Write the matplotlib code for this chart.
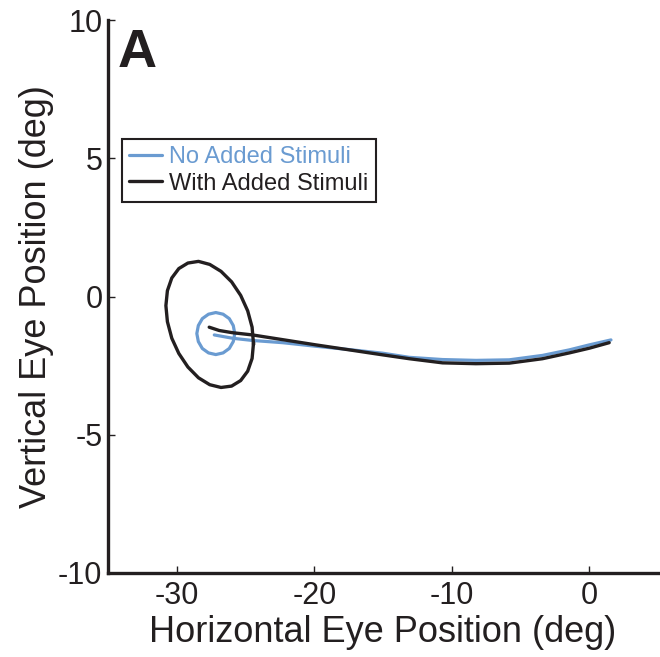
import matplotlib
matplotlib.use("Agg")
import matplotlib.pyplot as plt

plt.rcParams['font.family'] = ['Liberation Sans', 'DejaVu Sans']
plt.rcParams['axes.unicode_minus'] = False

# ---- data ----
xticks = [-30, -20, -10, 0]
yticks = [-10, -5, 0, 5, 10]
labels = ["No Added Stimuli", "With Added Stimuli"]

# No Added Stimuli: small loop + tail
blue_loop_x = [-25.78, -25.89, -26.18, -26.63, -27.16, -27.69, -28.14, -28.43,
               -28.54, -28.43, -28.14, -27.69, -27.16, -26.63, -26.18, -25.89,
               -25.78]
blue_loop_y = [-1.34, -1.05, -0.80, -0.64, -0.58, -0.64, -0.80, -1.05,
               -1.34, -1.63, -1.88, -2.04, -2.10, -2.04, -1.88, -1.63,
               -1.34]
blue_x = [-27.27, -25.94, -24.49, -22.31, -19.88, -17.45, -15.03, -13.09,
          -10.67, -8.24, -5.82, -3.40, -1.45, 0.00, 1.58]
blue_y = [-1.39, -1.51, -1.59, -1.67, -1.80, -1.92, -2.05, -2.20,
          -2.28, -2.31, -2.29, -2.13, -1.93, -1.75, -1.57]

# With Added Stimuli: large tilted loop + tail
black_loop_x = [-24.42, -24.52, -24.84, -25.35, -26.01, -26.78, -27.60, -28.42,
                -29.19, -29.85, -30.36, -30.68, -30.79, -30.68, -30.36, -29.85,
                -29.19, -28.42, -27.60, -26.78, -26.01, -25.35, -24.84, -24.52,
                -24.42]
black_loop_y = [-1.70, -2.24, -2.70, -3.04, -3.24, -3.29, -3.19, -2.94,
                -2.55, -2.06, -1.51, -0.91, -0.33, 0.21, 0.67, 1.01,
                1.21, 1.27, 1.16, 0.91, 0.53, 0.04, -0.52, -1.11,
                -1.70]
black_x = [-27.64, -26.91, -25.94, -24.49, -22.31, -19.88, -17.45, -15.03,
           -13.09, -10.67, -8.24, -5.82, -3.40, -1.45, 0.00, 1.45]
black_y = [-1.11, -1.23, -1.31, -1.39, -1.56, -1.75, -1.93, -2.11,
           -2.25, -2.40, -2.43, -2.41, -2.25, -2.04, -1.87, -1.67]

blue = '#6A9BD1'
dark = '#231F20'

fig = plt.figure(figsize=(6.6, 6.57), dpi=100)
ax = fig.add_axes([108/660, 1 - 573/657, 550/660, 553/657])

ax.plot(blue_loop_x, blue_loop_y, color=blue, lw=2.3, solid_joinstyle='round')
ax.plot(blue_x, blue_y, color=blue, lw=2.3, label=labels[0],
        solid_joinstyle='round', solid_capstyle='round')
ax.plot(black_loop_x, black_loop_y, color=dark, lw=2.4, solid_joinstyle='round')
ax.plot(black_x, black_y, color=dark, lw=2.4, label=labels[1],
        solid_joinstyle='round', solid_capstyle='round')

ax.set_xlim(-35, 5)
ax.set_ylim(-10, 10)
ax.set_xticks(xticks)
ax.set_yticks(yticks)
ax.spines['top'].set_visible(False)
ax.spines['right'].set_visible(False)
for s in ('left', 'bottom'):
    ax.spines[s].set_linewidth(2.4)
    ax.spines[s].set_color(dark)
ax.tick_params(direction='in', length=5, width=1.0, labelsize=22,
               colors=dark)
ax.tick_params(axis='y', pad=4)
ax.tick_params(axis='x', pad=6)

ax.set_xlabel("Horizontal Eye Position (deg)", fontsize=26, color=dark, labelpad=3)
ax.set_ylabel("Vertical Eye Position (deg)", fontsize=26, color=dark, labelpad=3)

ax.text(0.018, 0.986, "A", transform=ax.transAxes, fontsize=39,
        fontweight='bold', color=dark, va='top', ha='left')

leg = ax.legend(loc='upper left', bbox_to_anchor=(0.0255, 0.785),
                borderaxespad=0, fontsize=17, frameon=True, fancybox=False,
                edgecolor=dark, framealpha=1, handlelength=1.4,
                handletextpad=0.3, borderpad=0.3, labelspacing=0.2)
leg.get_frame().set_linewidth(1.5)
leg.get_texts()[0].set_color(blue)
leg.get_texts()[1].set_color(dark)

fig.savefig("out.png", dpi=100)
